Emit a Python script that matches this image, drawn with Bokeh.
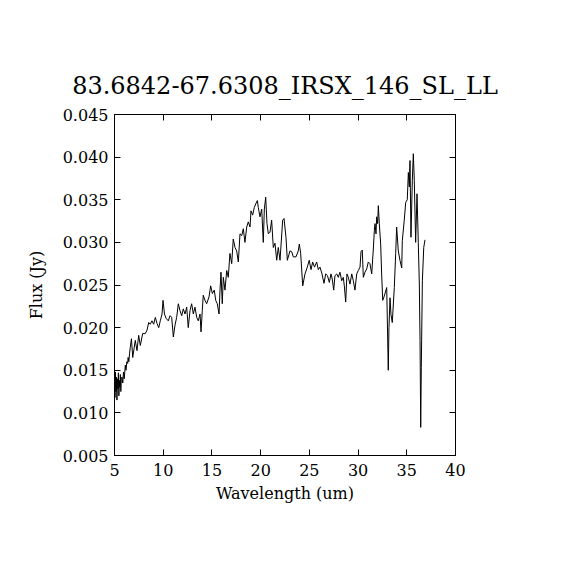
from bokeh.plotting import figure
from bokeh.models import LinearAxis, FixedTicker, PrintfTickFormatter, Range1d
from bokeh.embed import file_html
from bokeh.resources import INLINE

title_text = "83.6842-67.6308_IRSX_146_SL_LL"
x_label = "Wavelength (um)"
y_label = "Flux (Jy)"
x_ticks = [5, 10, 15, 20, 25, 30, 35, 40]
y_ticks = [0.005, 0.010, 0.015, 0.020, 0.025, 0.030, 0.035, 0.040, 0.045]

wavelength = [
    5.00, 5.05, 5.10, 5.15, 5.20, 5.25, 5.30, 5.35, 5.40, 5.45, 5.50, 5.55, 5.60, 5.65, 5.70,
    5.77, 5.85, 5.92, 6.00, 6.11, 6.18, 6.27, 6.35, 6.40, 6.47, 6.55, 6.62, 6.74, 6.87, 7.13,
    7.31, 7.48, 7.65, 7.89, 8.16, 8.34, 8.51, 8.67, 8.85, 9.02, 9.19, 9.36, 9.54, 9.70, 9.88,
    9.98, 10.13, 10.29, 10.52, 10.70, 10.87, 11.04, 11.21, 11.38, 11.55, 11.72, 11.90, 12.06, 12.24, 12.41,
    12.57, 12.75, 12.92, 13.09, 13.26, 13.44, 13.60, 13.78, 13.88, 14.01, 14.11, 14.29, 14.46, 14.70, 14.87,
    15.04, 15.24, 15.39, 15.55, 15.73, 15.83, 15.93, 16.06, 16.17, 16.34, 16.52, 16.68, 16.85, 17.03, 17.19,
    17.37, 17.54, 17.71, 17.88, 18.06, 18.22, 18.39, 18.57, 18.73, 18.91, 19.01, 19.18, 19.35, 19.49, 19.66,
    19.76, 19.93, 20.11, 20.27, 20.38, 20.52, 20.65, 20.79, 20.96, 21.13, 21.30, 21.47, 21.65, 21.81, 21.99,
    22.26, 22.40, 22.60, 22.74, 23.01, 23.19, 23.35, 23.63, 23.86, 23.97, 24.11, 24.32, 24.55, 24.79, 24.99,
    25.17, 25.34, 25.53, 25.75, 25.92, 26.09, 26.30, 26.50, 26.68, 26.86, 27.05, 27.22, 27.35, 27.50, 27.63,
    27.81, 27.97, 28.14, 28.32, 28.48, 28.59, 28.73, 28.86, 29.00, 29.17, 29.35, 29.51, 29.68, 29.86, 30.02,
    30.20, 30.30, 30.43, 30.54, 30.71, 30.89, 31.05, 31.22, 31.40, 31.56, 31.67, 31.74, 31.84, 31.91, 32.01,
    32.08, 32.18, 32.32, 32.42, 32.53, 32.66, 32.94, 33.10, 33.17, 33.28, 33.38, 33.51, 33.72, 33.86, 33.96,
    34.13, 34.30, 34.48, 34.54, 34.74, 34.89, 35.05, 35.16, 35.26, 35.33, 35.43, 35.57, 35.67, 35.77, 35.91,
    36.05, 36.18, 36.29, 36.36, 36.43, 36.49, 36.60, 36.74, 36.87,
]

flux = [
    0.0135, 0.0118, 0.0148, 0.0125, 0.0142, 0.0115, 0.0140, 0.0128, 0.0147, 0.0120, 0.0138, 0.0130, 0.0145, 0.0125, 0.0140,
    0.0142, 0.0135, 0.0148, 0.0140, 0.0156, 0.0150, 0.0160, 0.0158, 0.0165, 0.0160, 0.0170, 0.0177, 0.0187, 0.0165, 0.0185,
    0.0173, 0.0191, 0.0179, 0.0193, 0.0193, 0.0197, 0.0206, 0.0204, 0.0208, 0.0204, 0.0212, 0.0205, 0.0200, 0.0208, 0.0216,
    0.0232, 0.0216, 0.0211, 0.0208, 0.0214, 0.0212, 0.0189, 0.0203, 0.0212, 0.0228, 0.0220, 0.0214, 0.0222, 0.0216, 0.0224,
    0.0200, 0.0220, 0.0228, 0.0216, 0.0224, 0.0212, 0.0208, 0.0216, 0.0195, 0.0220, 0.0238, 0.0232, 0.0228, 0.0236, 0.0249,
    0.0240, 0.0244, 0.0232, 0.0228, 0.0216, 0.0244, 0.0265, 0.0228, 0.0259, 0.0244, 0.0267, 0.0259, 0.0287, 0.0275, 0.0304,
    0.0294, 0.0290, 0.0277, 0.0310, 0.0308, 0.0316, 0.0300, 0.0318, 0.0324, 0.0318, 0.0337, 0.0332, 0.0341, 0.0345, 0.0349,
    0.0341, 0.0330, 0.0339, 0.0300, 0.0339, 0.0353, 0.0322, 0.0310, 0.0312, 0.0326, 0.0294, 0.0299, 0.0279, 0.0294, 0.0279,
    0.0326, 0.0328, 0.0306, 0.0279, 0.0290, 0.0289, 0.0283, 0.0283, 0.0290, 0.0298, 0.0287, 0.0249, 0.0263, 0.0271, 0.0279,
    0.0268, 0.0277, 0.0271, 0.0277, 0.0268, 0.0271, 0.0263, 0.0252, 0.0263, 0.0261, 0.0253, 0.0263, 0.0257, 0.0244, 0.0261,
    0.0263, 0.0259, 0.0265, 0.0255, 0.0259, 0.0249, 0.0230, 0.0263, 0.0259, 0.0251, 0.0263, 0.0255, 0.0244, 0.0263, 0.0267,
    0.0271, 0.0289, 0.0291, 0.0259, 0.0265, 0.0269, 0.0277, 0.0275, 0.0263, 0.0291, 0.0314, 0.0322, 0.0310, 0.0330, 0.0322,
    0.0343, 0.0322, 0.0298, 0.0263, 0.0232, 0.0236, 0.0247, 0.0150, 0.0200, 0.0235, 0.0215, 0.0206, 0.0247, 0.0287, 0.0318,
    0.0290, 0.0279, 0.0270, 0.0302, 0.0326, 0.0347, 0.0350, 0.0382, 0.0365, 0.0396, 0.0306, 0.0373, 0.0404, 0.0373, 0.0300,
    0.0357, 0.0300, 0.0250, 0.0185, 0.0083, 0.0153, 0.0255, 0.0294, 0.0303,
]

FONT = "DejaVu Serif"

p = figure(
    width=554, height=554,
    output_backend="svg", toolbar_location=None,
    x_range=Range1d(5, 40), y_range=Range1d(0.005, 0.045),
    min_border_left=114, min_border_right=99, min_border_top=114, min_border_bottom=99,
    x_axis_label=x_label, y_axis_label=y_label,
)
p.title.text = title_text
p.title.align = "center"
p.title.text_font = FONT
p.title.text_font_size = "24px"
p.title.text_font_style = "normal"
p.title.text_color = "black"
p.title.standoff = 30

p.grid.visible = False
p.background_fill_color = "white"
p.border_fill_color = "white"
p.outline_line_color = "black"
p.outline_line_width = 1

p.line(wavelength, flux, line_color="black", line_width=1)

def style_axis(ax, ticks, labels=True, fmt=None):
    ax.ticker = FixedTicker(ticks=ticks)
    ax.major_tick_in = 6
    ax.major_tick_out = 0
    ax.minor_tick_in = 0
    ax.minor_tick_out = 0
    ax.axis_line_color = "black"
    ax.major_tick_line_color = "black"
    if fmt is not None:
        ax.formatter = fmt
    if labels:
        ax.major_label_text_font = FONT
        ax.major_label_text_font_size = "16px"
        ax.major_label_text_color = "black"
        ax.axis_label_text_font = FONT
        ax.axis_label_text_font_size = "16px"
        ax.axis_label_text_font_style = "normal"
        ax.axis_label_text_color = "black"
        ax.major_label_standoff = 6
    else:
        ax.major_label_text_font_size = "0px"
        ax.major_label_text_color = None

style_axis(p.xaxis[0], x_ticks)
p.xaxis[0].major_label_standoff = 8
p.xaxis[0].axis_label_standoff = 5
style_axis(p.yaxis[0], y_ticks, fmt=PrintfTickFormatter(format="%.3f"))
p.yaxis[0].axis_label_standoff = 14

top = LinearAxis()
style_axis(top, x_ticks, labels=False)
p.add_layout(top, "above")
right = LinearAxis()
style_axis(right, y_ticks, labels=False)
p.add_layout(right, "right")

open("out.html", "w").write(file_html(p, INLINE))
